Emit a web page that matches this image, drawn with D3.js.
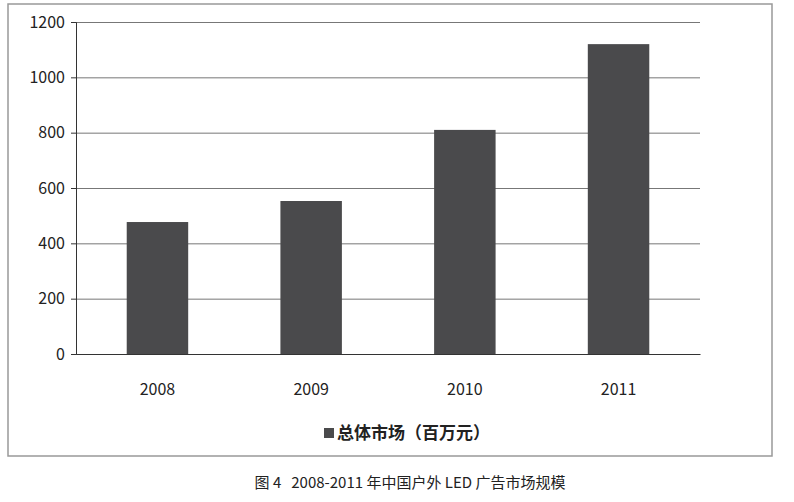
<!DOCTYPE html>
<html><head><meta charset="utf-8">
<script src="https://cdn.jsdelivr.net/npm/d3@7"></script>
<style>body{margin:0;background:#fff;} text{font-family:"Noto Sans CJK SC","DejaVu Sans",sans-serif;}</style>
</head><body><svg id="chart" width="794" height="502"></svg>
<script>
const years = ["2008", "2009", "2010", "2011"];
const values = [477, 553, 810, 1120];
const yTicks = [0, 200, 400, 600, 800, 1000, 1200];
const legendLabel = "总体市场（百万元）";
const caption = "图 4   2008-2011 年中国户外 LED 广告市场规模";

const svg = d3.select("#chart");
const area = { left: 76, right: 700, top: 22, bottom: 354 };

// chart frame
svg.append("rect").attr("x", 8).attr("y", 4).attr("width", 764).attr("height", 452)
  .attr("fill", "none").attr("stroke", "#999").attr("stroke-width", 1.5);

const x = d3.scaleBand().domain(years).range([area.left, area.right]).paddingInner(0.6).paddingOuter(0.33);
const y = d3.scaleLinear().domain([0, 1200]).range([area.bottom, area.top]);

svg.append("g").attr("transform", `translate(${area.left},0)`)
  .call(d3.axisLeft(y).tickValues(yTicks).tickSize(-(area.right - area.left)).tickFormat(""))
  .call(g => g.selectAll("line").attr("stroke", "#777"))
  .call(g => g.select(".domain").remove());

svg.append("g").selectAll("rect").data(years).join("rect")
  .attr("x", d => x(d)).attr("width", x.bandwidth())
  .attr("y", (d, i) => y(values[i])).attr("height", (d, i) => y(0) - y(values[i]))
  .attr("fill", "#4a4a4c");

svg.append("g").attr("transform", `translate(${area.left},0)`)
  .call(d3.axisLeft(y).tickValues(yTicks).tickSize(5).tickPadding(6).tickFormat(d3.format("d")))
  .call(g => g.selectAll("text").attr("font-size", 16).attr("fill", "#222"))
  .call(g => g.selectAll("line,path").attr("stroke", "#333"));

svg.append("g").attr("transform", `translate(0,${area.bottom})`)
  .call(d3.axisBottom(x).tickSize(0).tickPadding(30).tickSizeOuter(0))
  .call(g => g.selectAll("text").attr("font-size", 16).attr("fill", "#222"))
  .call(g => g.select(".domain").attr("stroke", "#333"));

svg.append("rect").attr("x", 324).attr("y", 428).attr("width", 10).attr("height", 10).attr("fill", "#4a4a4c");
svg.append("text").attr("x", 337).attr("y", 439).attr("font-size", 17).attr("font-weight", "bold").attr("fill", "#222").text(legendLabel);

svg.append("text").attr("x", 410).attr("y", 488).attr("text-anchor", "middle")
  .attr("font-size", 15).attr("fill", "#222").attr("xml:space", "preserve").style("white-space", "pre")
  .style("font-family", "'Noto Sans CJK SC', serif").text(caption);
</script></body></html>
